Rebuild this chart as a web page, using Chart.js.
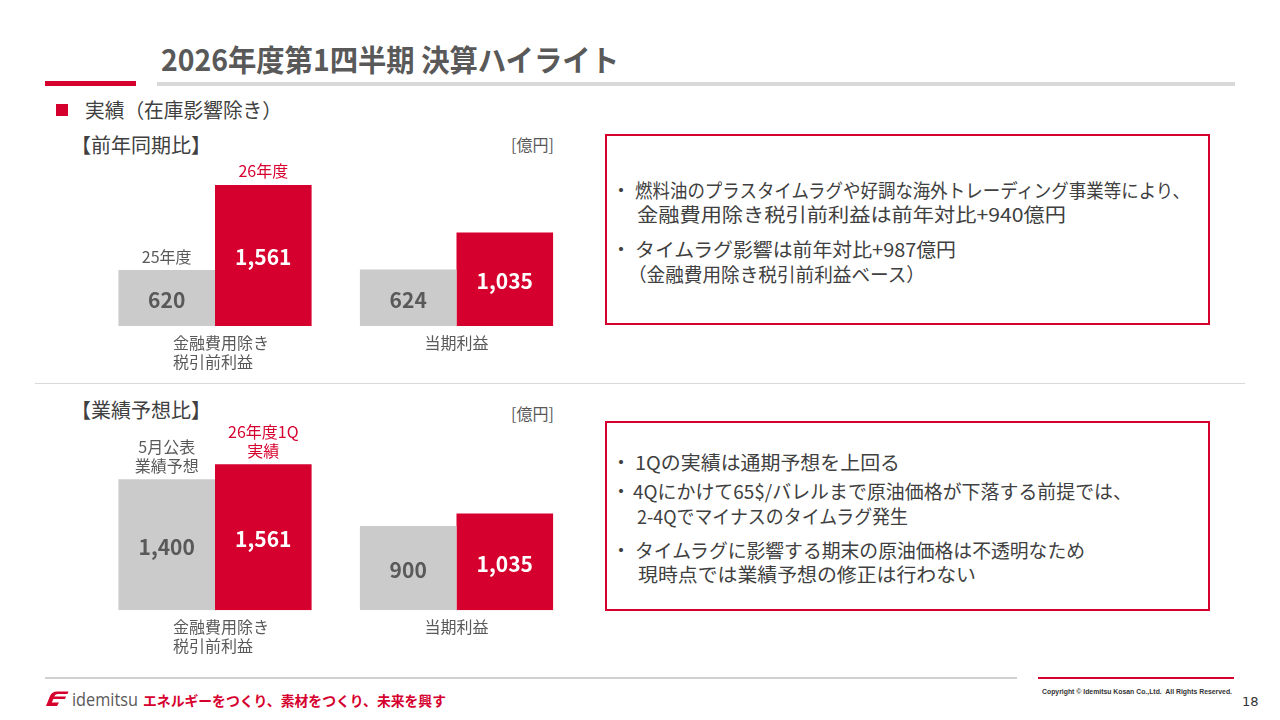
<!DOCTYPE html>
<html lang="ja">
<head>
<meta charset="utf-8">
<script src="https://cdn.jsdelivr.net/npm/chart.js@4.4.1/dist/chart.umd.min.js"></script>
<style>
  html, body { margin:0; padding:0; background:#fff; }
  body { width:1280px; height:720px; position:relative; overflow:hidden;
         font-family:"Noto Sans CJK JP","Noto Sans",sans-serif; color:#404040; }
  .abs { position:absolute; }
  .t { position:absolute; white-space:nowrap; display:inline-block; transform-origin:0 50%; }
  .box { position:absolute; border:2px solid #d6002f; box-sizing:border-box; }
  .ln { font-size:19px; line-height:24px; color:#404040; }
  .bul { position:absolute; font-size:19px; line-height:24px; color:#404040; transform:translateX(-50%); }
  canvas { position:absolute; }
</style>
</head>
<body>
<script>
// ---------- DATA ----------
const categories = [['金融費用除き','税引前利益'], ['当期利益']];
const unitLabel = '[億円]';
// Year-on-year comparison
const yoyTitle = '【前年同期比】';
const yoySeries = [['25年度'], ['26年度']];
const yoyPrev = [620, 624];
const yoyCurr = [1561, 1035];
// Forecast comparison
const fcTitle = '【業績予想比】';
const fcSeries = [['5月公表','業績予想'], ['26年度1Q','実績']];
const fcPlan = [1400, 900];
const fcActual = [1561, 1035];
</script>

<!-- Title -->
<div class="t" data-w="458" style="left:160.5px;top:38px;font-size:30px;line-height:40px;font-weight:bold;color:#595959;">2026年度第1四半期 決算ハイライト</div>
<div class="abs" style="left:45px;top:81px;width:91px;height:4.5px;background:#d6002f;"></div>
<div class="abs" style="left:157px;top:81.5px;width:1078px;height:4.5px;background:#d9d9d9;"></div>

<!-- Section header -->
<div class="abs" style="left:56px;top:104px;width:12px;height:12px;background:#d6002f;"></div>
<div class="t" data-w="197" style="left:85px;top:96px;font-size:20px;line-height:28px;color:#404040;">実績（在庫影響除き）</div>

<div class="t" id="h1" style="left:71px;top:131.5px;font-size:20px;line-height:26px;color:#404040;"></div>
<div class="t" id="u1" style="left:511px;top:133px;font-size:16px;line-height:22px;color:#595959;"></div>
<div class="t" id="h2" style="left:71px;top:396.5px;font-size:20px;line-height:26px;color:#404040;"></div>
<div class="t" id="u2" style="left:511px;top:402px;font-size:16px;line-height:22px;color:#595959;"></div>

<!-- separator -->
<div class="abs" style="left:35px;top:382.5px;width:1210px;height:1px;background:#d9d9d9;"></div>

<canvas id="c1" width="560" height="230" style="left:40px;top:150px;width:560px;height:230px;"></canvas>
<canvas id="c2" width="560" height="260" style="left:40px;top:400px;width:560px;height:260px;"></canvas>

<!-- Top box -->
<div class="box" style="left:605px;top:133.5px;width:605px;height:191px;"></div>
<span class="bul" style="left:621px;top:178px;">・</span>
<div class="t ln" data-w="555" style="left:635px;top:178px;">燃料油のプラスタイムラグや好調な海外トレーディング事業等により、</div>
<div class="t ln" data-w="429" style="left:637px;top:202px;">金融費用除き税引前利益は前年対比+940億円</div>
<span class="bul" style="left:621px;top:237px;">・</span>
<div class="t ln" data-w="321" style="left:635px;top:237px;">タイムラグ影響は前年対比+987億円</div>
<div class="t ln" data-w="297" style="left:628px;top:262px;">（金融費用除き税引前利益ベース）</div>

<!-- Bottom box -->
<div class="box" style="left:605px;top:420.5px;width:605px;height:190px;"></div>
<span class="bul" style="left:621px;top:449.5px;">・</span>
<div class="t ln" data-w="265" style="left:635px;top:449.5px;">1Qの実績は通期予想を上回る</div>
<span class="bul" style="left:621px;top:478.5px;">・</span>
<div class="t ln" data-w="499" style="left:633px;top:478.5px;">4Qにかけて65$/バレルまで原油価格が下落する前提では、</div>
<div class="t ln" data-w="271" style="left:637px;top:504px;">2-4Qでマイナスのタイムラグ発生</div>
<span class="bul" style="left:621px;top:538px;">・</span>
<div class="t ln" data-w="450" style="left:635px;top:538px;">タイムラグに影響する期末の原油価格は不透明なため</div>
<div class="t ln" data-w="338" style="left:638px;top:562px;">現時点では業績予想の修正は行わない</div>

<!-- Footer -->
<div class="abs" style="left:45px;top:676.5px;width:972px;height:2px;background:#d0d0d0;"></div>
<div class="abs" style="left:1038px;top:676.5px;width:196px;height:2.5px;background:#d6002f;"></div>
<div class="t" data-w="190" style="left:1041.5px;top:686px;font-family:'Liberation Sans',Arial,sans-serif;font-size:8px;line-height:12px;font-weight:bold;color:#333;">Copyright © Idemitsu Kosan Co.,Ltd.&nbsp; All Rights Reserved.</div>
<div class="t" style="left:1242px;top:693px;font-family:'DejaVu Sans',sans-serif;font-size:13px;line-height:18px;color:#333;">18</div>
<svg class="abs" style="left:45px;top:690px;" width="24" height="17" viewBox="0 0 24 17">
  <path d="M1 16 L5 6 Q7 1.5 12 1.5 L23.5 1.5 L22.5 4 L12.5 4 Q10 4 9.2 6.5 L21 6.5 L20 9 L8.3 9 L6.8 12.5 L14 12.5 L12 16 Z" fill="#d6002f"/>
</svg>
<div class="t" data-w="66" style="left:72px;top:687px;font-family:'Open Sans','Noto Sans',sans-serif;font-size:19px;line-height:24px;color:#595959;">idemitsu</div>
<div class="t" data-w="303" style="left:143px;top:690px;font-size:14px;line-height:20px;font-weight:bold;color:#d6002f;">エネルギーをつくり、素材をつくり、未来を興す</div>

<script>
document.getElementById('h1').textContent = yoyTitle;
document.getElementById('h2').textContent = fcTitle;
document.getElementById('u1').textContent = unitLabel;
document.getElementById('u2').textContent = unitLabel;

const RED = '#d6002f', GRAY = '#cbcbcb', DARK = '#595959';
const FONT = '"Noto Sans CJK JP", sans-serif';

const labelPlugin = {
  id: 'barLabels',
  afterDatasetsDraw(chart, args, opts) {
    const ctx = chart.ctx;
    const yScale = chart.scales.y, xScale = chart.scales.x;
    const base = yScale.getPixelForValue(0);
    chart.data.datasets.forEach((ds, i) => {
      const meta = chart.getDatasetMeta(i);
      meta.data.forEach((bar, j) => {
        ctx.save();
        ctx.font = 'bold 21px ' + FONT;
        ctx.fillStyle = opts.valueColors[i];
        ctx.textAlign = 'center';
        ctx.textBaseline = 'middle';
        ctx.fillText(ds.data[j].toLocaleString('en-US'), bar.x, (bar.y + bar.base) / 2 + 2);
        ctx.restore();
      });
      const b0 = meta.data[0];
      const lines = opts.series[i];
      ctx.save();
      ctx.font = '16px ' + FONT;
      ctx.fillStyle = opts.seriesColors[i];
      ctx.textAlign = 'center';
      ctx.textBaseline = 'middle';
      lines.forEach((ln, k) => {
        ctx.fillText(ln, b0.x, b0.y - 13.5 - (lines.length - 1 - k) * 19);
      });
      ctx.restore();
    });
    ctx.save();
    ctx.font = '16px ' + FONT;
    ctx.fillStyle = DARK;
    ctx.textBaseline = 'middle';
    ctx.textAlign = 'left';
    opts.categories.forEach((lines, j) => {
      const cx = xScale.getPixelForValue(j);
      const w0 = ctx.measureText(lines[0]).width;
      const left = cx - w0 / 2 + (lines.length > 1 ? 6 : 0);
      lines.forEach((ln, k) => ctx.fillText(ln, left, base + 16.5 + k * 19.5));
    });
    ctx.restore();
  }
};

function makeChart(id, prev, curr, series, padding) {
  return new Chart(document.getElementById(id), {
    type: 'bar',
    data: {
      labels: categories.map(c => c.join('')),
      datasets: [
        { data: prev, backgroundColor: GRAY, categoryPercentage: 0.8, barPercentage: 1.0, borderWidth: 0 },
        { data: curr, backgroundColor: RED, categoryPercentage: 0.8, barPercentage: 1.0, borderWidth: 0 }
      ]
    },
    options: {
      responsive: false,
      animation: false,
      devicePixelRatio: 1,
      layout: { padding: padding },
      scales: {
        x: { display: false },
        y: { display: false, min: 0, max: 1800 }
      },
      plugins: {
        legend: { display: false },
        tooltip: { enabled: false },
        barLabels: {
          series: series,
          categories: categories,
          valueColors: [DARK, '#ffffff'],
          seriesColors: [DARK, RED]
        }
      }
    },
    plugins: [labelPlugin]
  });
}

makeChart('c1', yoyPrev, yoyCurr, yoySeries, { left: 54.25, right: 22.75, top: 13.3, bottom: 54 });
makeChart('c2', fcPlan, fcActual, fcSeries, { left: 54.25, right: 22.75, top: 41.8, bottom: 49.7 });

function fitAll() {
  document.querySelectorAll('[data-w]').forEach(el => {
    el.style.transform = 'none';
    const nat = el.getBoundingClientRect().width;
    const w = parseFloat(el.dataset.w);
    if (nat > 0) el.style.transform = 'scaleX(' + (w / nat) + ')';
  });
}
fitAll();
</script>
</body>
</html>
